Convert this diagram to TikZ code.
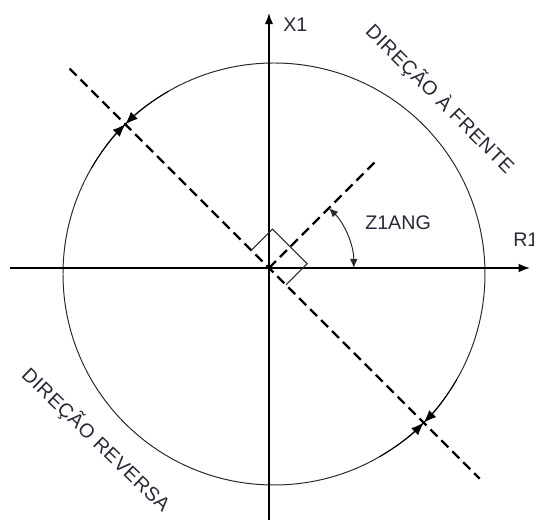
\documentclass[tikz,border=0pt]{standalone}
\usepackage{fontspec}
\setmainfont{Liberation Sans}
\usetikzlibrary{arrows.meta,calc}
\definecolor{linegray}{RGB}{40,40,40}
\definecolor{textdark}{RGB}{40,40,55}
\tikzset{
    % Axes
    axis/.style={
        -{Latex[length=8pt,width=6pt]},
        line width=1pt,
        draw=black
    },
    % Dashed directions
    dirline/.style={
        line width=1.6pt,
        dash pattern=on 7pt off 4pt,
        draw=black
    },
    % Circle and marks
    orbit/.style={
        line width=0.7pt,
        draw=linegray
    },
    tipmark/.style={
        -{Latex[length=9pt,width=7pt]},
        line width=0.7pt,
        draw=black
    },
    anglearc/.style={
        {Latex[length=6.5pt,width=5.5pt]}-{Latex[length=6.5pt,width=5.5pt]},
        line width=0.7pt,
        draw=linegray
    },
    rightmark/.style={
        line width=0.7pt,
        draw=linegray
    },
    % Labels
    axislabel/.style={
        font=\fontsize{14}{16}\selectfont,
        text=textdark,
        inner sep=0pt,
        anchor=west
    },
    dirlabel/.style={
        font=\fontsize{14}{16}\selectfont\addfontfeatures{LetterSpace=3},
        text=textdark,
        inner sep=0pt
    }
}

\begin{document}
\begin{tikzpicture}

    % Frame
    \useasboundingbox (-6.725,-6.3) rectangle (6.625,6.7);

    % Reference points
    \coordinate (O) at (0,0);
    \coordinate (C) at (0.125,-0.15);

    % Circle
    \draw[orbit] (C) circle (5.275);

    % Axes
    \coordinate (rleft) at (-6.475,0);
    \coordinate (rright) at (6.525,0);
    \coordinate (xbottom) at (0,-6.35);
    \coordinate (xtop) at (0,6.375);
    \draw[axis] (rleft) -- (rright);
    \draw[axis] (xbottom) -- (xtop);
    \node[axislabel] (r1) at (6.1,0.7) {R1};
    \node[axislabel] (x1) at (0.35,6.075) {X1};

    % Dashed directions
    \coordinate (nw) at (135:7.05);
    \coordinate (se) at (-45:7.45);
    \coordinate (ne) at (45:3.85);
    \draw[dirline] (nw) -- (se);
    \draw[dirline] (O) -- (ne);

    % Right angle marks
    \begin{scope}[rotate=-45]
        \draw[rightmark] (-0.625,0) -- (-0.625,0.75) -- (0.6,0.75) -- (0.6,0);
    \end{scope}

    % Angle
    \draw[anglearc] ($(O)+(45:2.12)$) arc (45:0:2.12);
    \node[axislabel] (z1ang) at (2.4,1.125) {Z1ANG};

    % Crossing marks on the circle
    \draw[tipmark] ($(C)+(120:5.275)$) arc (120:134.8:5.275);
    \draw[tipmark] ($(C)+(150:5.275)$) arc (150:134.8:5.275);
    \draw[tipmark] ($(C)+(-30:5.275)$) arc (-30:-44.8:5.275);
    \draw[tipmark] ($(C)+(-60:5.275)$) arc (-60:-44.8:5.275);

    % Direction labels
    \node[dirlabel, rotate=-45] (frente) at (4.275,4.225) {DIREÇÃO À FRENTE};
    \node[dirlabel, rotate=-44] (reversa) at (-4.325,-4.3) {DIREÇÃO REVERSA};

\end{tikzpicture}
\end{document}
